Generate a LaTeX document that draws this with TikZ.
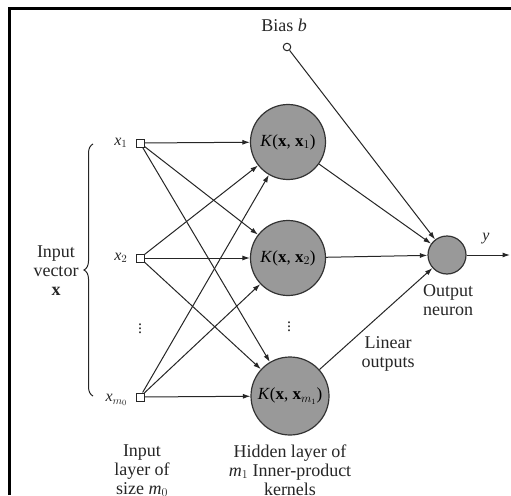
\documentclass[tikz,border=0pt]{standalone}
\usepackage{fontspec}
\setmainfont{Liberation Serif}
\usetikzlibrary{arrows.meta,decorations.pathreplacing}
\begin{document}
\begin{tikzpicture}[x=1pt,y=-1pt,
  conn/.style={draw=black!85,line width=1pt,-{Latex[length=7.5pt,width=5pt]}},
  hid/.style={circle,draw=black!80,line width=1.2pt,fill=black!40,inner sep=0pt},
  inbox/.style={rectangle,draw=black!85,line width=1pt,fill=white,minimum size=8pt,inner sep=0pt},
  lbl/.style={font=\fontsize{18}{19}\selectfont,align=center,text=black!85},
  xl/.style={font=\fontsize{16}{18}\selectfont,text=black!85}]
\useasboundingbox (0,0) rectangle (511,495);
\fill[white] (0,0) rectangle (511,495);
\draw[line width=3pt] (9,495) -- (9,9) -- (511,9);
% bias
\node[lbl] (biast) at (284,25) {Bias \textit{b}};
\node[circle,draw=black!85,line width=1pt,fill=white,minimum size=7.5pt,inner sep=0pt] (bias) at (287,47) {};
% inputs
\node[inbox] (in1) at (140,143) {};
\node[inbox] (in2) at (140,258) {};
\node[inbox] (in3) at (140,397) {};
\node[xl,anchor=east] (l1) at (131,143) {\textit{x}$_1$};
\node[xl,anchor=east] (l2) at (131,258) {\textit{x}$_2$};
\node[xl,anchor=east] (l3) at (131,400) {\textit{x}$_{m_0}$};
\node[xl,inner sep=0pt] (vd1) at (140,326) {$\vdots$};
% hidden
\node[hid,minimum size=75pt] (h1) at (288,142) {};
\node[hid,minimum size=75pt] (h2) at (288,258) {};
\node[hid,minimum size=78pt] (h3) at (290,396) {};
\node[font=\fontsize{17}{18}\selectfont] (k1) at (288,142) {\textit{K}(\textbf{x}, \textbf{x}$_1$)};
\node[font=\fontsize{17}{18}\selectfont] (k2) at (288,258) {\textit{K}(\textbf{x}, \textbf{x}$_2$)};
\node[font=\fontsize{17}{18}\selectfont] (k3) at (290,396) {\textit{K}(\textbf{x}, \textbf{x}$_{m_1}$)};
\node[xl,inner sep=0pt] (vd2) at (289,324) {$\vdots$};
% output
\node[hid,minimum size=38pt] (out) at (447,255) {};
\coordinate (yend) at (510,255);
\node[xl] (yl) at (486,239) {\textit{y}};
% connections
\foreach \i in {in1,in2,in3}{
  \foreach \h in {h1,h2,h3}{
    \draw[conn] (\i) -- (\h);
  }
}
\foreach \h in {h1,h2,h3}{ \draw[conn] (\h) -- (out); }
\draw[conn] (bias) -- (out);
\draw[conn] (out) -- (yend);
% brace
\draw[draw=black!85,line width=1pt,decorate,decoration={brace,amplitude=9pt}] (93,396) -- (93,144);
% texts
\node[lbl] (iv) at (56,271) {Input\\vector\\\textbf{x}};
\node[lbl] (on) at (448,300) {Output\\neuron};
\node[lbl] (lo) at (388,354) {Linear\\outputs};
\node[lbl,anchor=north] (il) at (142,441) {Input\\layer of\\size \textit{m}$_0$};
\node[lbl,anchor=north] (hl) at (290,441) {Hidden layer of\\\textit{m}$_1$ Inner-product\\kernels};
\end{tikzpicture}
\end{document}
